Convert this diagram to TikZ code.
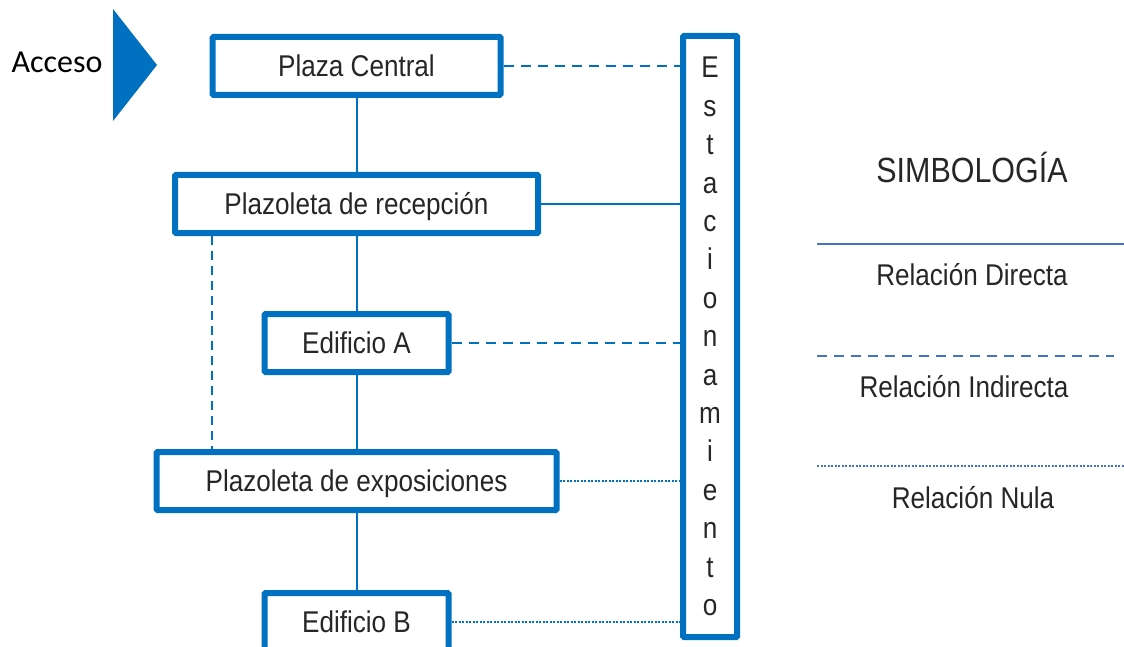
\documentclass[tikz,border=0pt]{standalone}
\usepackage{fontspec}
\setmainfont{Liberation Sans}[FakeStretch=0.87]
\newfontfamily\accesofont{Carlito}
\definecolor{azul}{HTML}{0070C0}
\definecolor{azulsimb}{HTML}{4472C4}
\definecolor{texto}{HTML}{262626}

\begin{document}
\begin{tikzpicture}[x=1pt, y=-1pt,
    marco/.style={draw=azul, line width=6pt, rounded corners=1pt, inner sep=0pt, text=texto, font=\fontsize{30}{36}\selectfont},
    caja/.style={marco, minimum height=58pt, text height=21.5pt, text depth=0.5pt},
    directa/.style={draw=azul, line width=2pt},
    indirecta/.style={draw=azul, line width=2.5pt, dash pattern=on 10pt off 7pt},
    nula/.style={draw=azul, line width=2.5pt, dash pattern=on 2pt off 1.5pt},
    simblinea/.style={draw=azulsimb, line width=2.5pt},
    leyenda/.style={text=texto, inner sep=0pt, font=\fontsize{30}{36}\selectfont, text height=21.5pt, text depth=0.5pt}]

    \useasboundingbox (0,0) rectangle (1124,647);

    \node[font=\accesofont\fontsize{32}{36}\selectfont, inner sep=0pt, text height=20.5pt, text depth=0pt] (acceso) at (57,62) {Acceso};
    \fill[azul] (113,9) -- (157,65) -- (113,121) -- cycle;

    \node[caja, minimum width=288pt] (plaza) at (356.5,66) {Plaza Central};
    \node[caja, minimum width=363pt] (recep) at (356.5,204) {Plazoleta de recepción};
    \node[caja, minimum width=184pt] (edA) at (356.5,343) {Edificio A};
    \node[caja, minimum width=400pt] (expo) at (356.5,481) {Plazoleta de exposiciones};
    \node[caja, minimum width=184pt] (edB) at (356.5,622) {Edificio B};

    \node[marco, minimum width=54pt, minimum height=601pt, align=center,
          font=\fontsize{30}{38.4}\selectfont] (estac) at (710,336.5)
        {E\\s\\t\\a\\c\\i\\o\\n\\a\\m\\i\\e\\n\\t\\o};

    \draw[directa] (plaza.south) -- (recep.north);
    \draw[directa] (recep.south) -- (edA.north);
    \draw[directa] (edA.south) -- (expo.north);
    \draw[directa] (expo.south) -- (edB.north);

    \draw[indirecta] (plaza.east) -- (plaza.east -| estac.west);
    \draw[directa] (recep.east) -- (recep.east -| estac.west);
    \draw[indirecta] (edA.east) -- (edA.east -| estac.west);
    \draw[nula] (expo.east) -- (expo.east -| estac.west);
    \draw[nula] (edB.east) -- (edB.east -| estac.west);

    \draw[indirecta, dash pattern=on 9pt off 6pt] ([xshift=40pt]recep.south west) -- ([xshift=40pt]recep.south west |- expo.north);

    \node[leyenda, font=\fontsize{35}{40}\selectfont, text height=25pt, text depth=0pt] (simb) at (972,170) {SIMBOLOGÍA};

    \coordinate (dirA) at (817,244);
    \coordinate (dirB) at (1124,244);
    \draw[simblinea] (dirA) -- (dirB);
    \node[leyenda] (ldir) at (972,275) {Relación Directa};

    \coordinate (indA) at (817,356);
    \coordinate (indB) at (1114,356);
    \draw[simblinea, dash pattern=on 10pt off 7pt] (indA) -- (indB);
    \node[leyenda] (lind) at (964,387) {Relación Indirecta};

    \coordinate (nulA) at (817,466);
    \coordinate (nulB) at (1124,466);
    \draw[simblinea, dash pattern=on 2pt off 1.5pt] (nulA) -- (nulB);
    \node[leyenda] (lnul) at (973,497.5) {Relación Nula};

\end{tikzpicture}
\end{document}
